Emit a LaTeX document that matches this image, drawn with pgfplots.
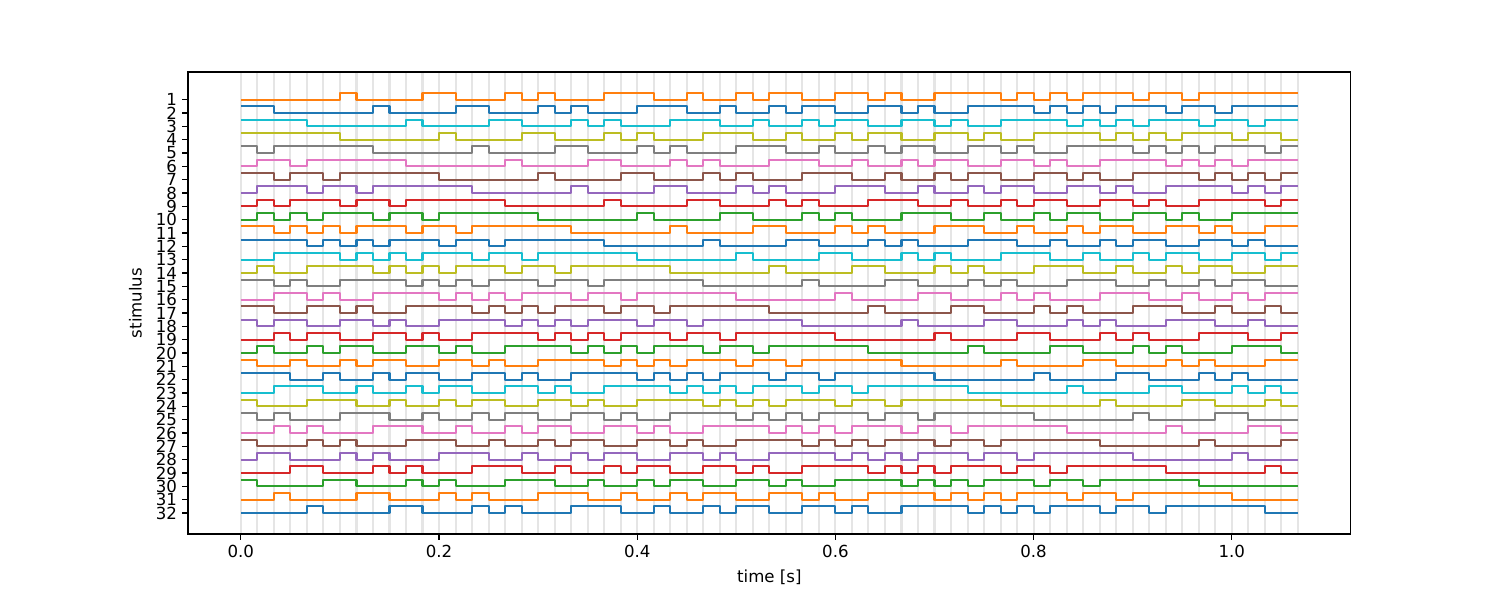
\documentclass[border=0pt]{standalone}
\usepackage{pgfplots}
\pgfplotsset{compat=1.18}
\usepackage{pgfplotstable}
\usepackage{fontspec}
\setmainfont{DejaVu Sans}
\definecolor{tab0}{HTML}{1F77B4}
\definecolor{tab1}{HTML}{FF7F0E}
\definecolor{tab2}{HTML}{2CA02C}
\definecolor{tab3}{HTML}{D62728}
\definecolor{tab4}{HTML}{9467BD}
\definecolor{tab5}{HTML}{8C564B}
\definecolor{tab6}{HTML}{E377C2}
\definecolor{tab7}{HTML}{7F7F7F}
\definecolor{tab8}{HTML}{BCBD22}
\definecolor{tab9}{HTML}{17BECF}

% one row per stimulus: the 64 bits of its code (1/60 s each), last bit repeated at the end
\pgfplotstableread[header=false]{
t 0 0.016667 0.033333 0.05 0.066667 0.083333 0.1 0.116667 0.133333 0.15 0.166667 0.183333 0.2 0.216667 0.233333 0.25 0.266667 0.283333 0.3 0.316667 0.333333 0.35 0.366667 0.383333 0.4 0.416667 0.433333 0.45 0.466667 0.483333 0.5 0.516667 0.533333 0.55 0.566667 0.583333 0.6 0.616667 0.633333 0.65 0.666667 0.683333 0.7 0.716667 0.733333 0.75 0.766667 0.783333 0.8 0.816667 0.833333 0.85 0.866667 0.883333 0.9 0.916667 0.933333 0.95 0.966667 0.983333 1 1.016667 1.033333 1.05 1.066667
s1  0 0 0 0 0 0 1 0  0 0 0 1 1 0 0 0  1 0 1 0 0 0 1 1  1 0 0 1 0 0 1 0  1 1 0 0 1 1 0 1  0 0 1 1 1 1 0 1  0 1 0 1 1 1 0 1  1 0 1 1 1 1 1 1  1
s2  1 1 0 0 0 0 0 0  1 0 0 0 0 1 1 0  0 0 1 0 1 0 0 0  1 1 1 0 0 1 0 0  1 0 1 1 0 0 1 1  0 1 0 0 1 1 1 1  0 1 0 1 0 1 1 1  0 1 1 0 1 1 1 1  1
s3  1 1 1 1 0 0 0 0  0 0 1 0 0 0 0 1  1 0 0 0 1 0 1 0  0 0 1 1 1 0 0 1  0 0 1 0 1 1 0 0  1 1 0 1 0 0 1 1  1 1 0 1 0 1 0 1  1 1 0 1 1 0 1 1  1
s4  1 1 1 1 1 1 0 0  0 0 0 0 1 0 0 0  0 1 1 0 0 0 1 0  1 0 0 0 1 1 1 0  0 1 0 0 1 0 1 1  0 0 1 1 0 1 0 0  1 1 1 1 0 1 0 1  0 1 1 1 0 1 1 0  0
s5  1 0 1 1 1 1 1 1  0 0 0 0 0 0 1 0  0 0 0 1 1 0 0 0  1 0 1 0 0 0 1 1  1 0 0 1 0 0 1 0  1 1 0 0 1 1 0 1  0 0 1 1 1 1 0 1  0 1 0 1 1 1 0 1  1
s6  0 1 1 0 1 1 1 1  1 1 0 0 0 0 0 0  1 0 0 0 0 1 1 0  0 0 1 0 1 0 0 0  1 1 1 0 0 1 0 0  1 0 1 1 0 0 1 1  0 1 0 0 1 1 1 1  0 1 0 1 0 1 1 1  1
s7  1 1 0 1 1 0 1 1  1 1 1 1 0 0 0 0  0 0 1 0 0 0 0 1  1 0 0 0 1 0 1 0  0 0 1 1 1 0 0 1  0 0 1 0 1 1 0 0  1 1 0 1 0 0 1 1  1 1 0 1 0 1 0 1  1
s8  0 1 1 1 0 1 1 0  1 1 1 1 1 1 0 0  0 0 0 0 1 0 0 0  0 1 1 0 0 0 1 0  1 0 0 0 1 1 1 0  0 1 0 0 1 0 1 1  0 0 1 1 0 1 0 0  1 1 1 1 0 1 0 1  1
s9  0 1 0 1 1 1 0 1  1 0 1 1 1 1 1 1  0 0 0 0 0 0 1 0  0 0 0 1 1 0 0 0  1 0 1 0 0 0 1 1  1 0 0 1 0 0 1 0  1 1 0 0 1 1 0 1  0 0 1 1 1 1 0 1  1
s10 0 1 0 1 0 1 1 1  0 1 1 0 1 1 1 1  1 1 0 0 0 0 0 0  1 0 0 0 0 1 1 0  0 0 1 0 1 0 0 0  1 1 1 0 0 1 0 0  1 0 1 1 0 0 1 1  0 1 0 0 1 1 1 1  1
s11 1 1 0 1 0 1 0 1  1 1 0 1 1 0 1 1  1 1 1 1 0 0 0 0  0 0 1 0 0 0 0 1  1 0 0 0 1 0 1 0  0 0 1 1 1 0 0 1  0 0 1 0 1 1 0 0  1 1 0 1 0 0 1 1  1
s12 1 1 1 1 0 1 0 1  0 1 1 1 0 1 1 0  1 1 1 1 1 1 0 0  0 0 0 0 1 0 0 0  0 1 1 0 0 0 1 0  1 0 0 0 1 1 1 0  0 1 0 0 1 0 1 1  0 0 1 1 0 1 0 0  0
s13 0 0 1 1 1 1 0 1  0 1 0 1 1 1 0 1  1 0 1 1 1 1 1 1  0 0 0 0 0 0 1 0  0 0 0 1 1 0 0 0  1 0 1 0 0 0 1 1  1 0 0 1 0 0 1 0  1 1 0 0 1 1 0 1  1
s14 0 1 0 0 1 1 1 1  0 1 0 1 0 1 1 1  0 1 1 0 1 1 1 1  1 1 0 0 0 0 0 0  1 0 0 0 0 1 1 0  0 0 1 0 1 0 0 0  1 1 1 0 0 1 0 0  1 0 1 1 0 0 1 1  1
s15 1 1 0 1 0 0 1 1  1 1 0 1 0 1 0 1  1 1 0 1 1 0 1 1  1 1 1 1 0 0 0 0  0 0 1 0 0 0 0 1  1 0 0 0 1 0 1 0  0 0 1 1 1 0 0 1  0 0 1 0 1 1 0 0  0
s16 0 0 1 1 0 1 0 0  1 1 1 1 0 1 0 1  0 1 1 1 0 1 1 0  1 1 1 1 1 1 0 0  0 0 0 0 1 0 0 0  0 1 1 0 0 0 1 0  1 0 0 0 1 1 1 0  0 1 0 0 1 0 1 1  1
s17 1 1 0 0 1 1 0 1  0 0 1 1 1 1 0 1  0 1 0 1 1 1 0 1  1 0 1 1 1 1 1 1  0 0 0 0 0 0 1 0  0 0 0 1 1 0 0 0  1 0 1 0 0 0 1 1  1 0 0 1 0 0 1 0  0
s18 1 0 1 1 0 0 1 1  0 1 0 0 1 1 1 1  0 1 0 1 0 1 1 1  0 1 1 0 1 1 1 1  1 1 0 0 0 0 0 0  1 0 0 0 0 1 1 0  0 0 1 0 1 0 0 0  1 1 1 0 0 1 0 0  0
s19 0 0 1 0 1 1 0 0  1 1 0 1 0 0 1 1  1 1 0 1 0 1 0 1  1 1 0 1 1 0 1 1  1 1 1 1 0 0 0 0  0 0 1 0 0 0 0 1  1 0 0 0 1 0 1 0  0 0 1 1 1 0 0 1  1
s20 0 1 0 0 1 0 1 1  0 0 1 1 0 1 0 0  1 1 1 1 0 1 0 1  0 1 1 1 0 1 1 0  1 1 1 1 1 1 0 0  0 0 0 0 1 0 0 0  0 1 1 0 0 0 1 0  1 0 0 0 1 1 1 0  0
s21 1 0 0 1 0 0 1 0  1 1 0 0 1 1 0 1  0 0 1 1 1 1 0 1  0 1 0 1 1 1 0 1  1 0 1 1 1 1 1 1  0 0 0 0 0 0 1 0  0 0 0 1 1 0 0 0  1 0 1 0 0 0 1 1  1
s22 1 1 1 0 0 1 0 0  1 0 1 1 0 0 1 1  0 1 0 0 1 1 1 1  0 1 0 1 0 1 1 1  0 1 1 0 1 1 1 1  1 1 0 0 0 0 0 0  1 0 0 0 0 1 1 0  0 0 1 0 1 0 0 0  0
s23 0 0 1 1 1 0 0 1  0 0 1 0 1 1 0 0  1 1 0 1 0 0 1 1  1 1 0 1 0 1 0 1  1 1 0 1 1 0 1 1  1 1 1 1 0 0 0 0  0 0 1 0 0 0 0 1  1 0 0 0 1 0 1 0  0
s24 1 0 0 0 1 1 1 0  0 1 0 0 1 0 1 1  0 0 1 1 0 1 0 0  1 1 1 1 0 1 0 1  0 1 1 1 0 1 1 0  1 1 1 1 1 1 0 0  0 0 0 0 1 0 0 0  0 1 1 0 0 0 1 0  0
s25 1 0 1 0 0 0 1 1  1 0 0 1 0 0 1 0  1 1 0 0 1 1 0 1  0 0 1 1 1 1 0 1  0 1 0 1 1 1 0 1  1 0 1 1 1 1 1 1  0 0 0 0 0 0 1 0  0 0 0 1 1 0 0 0  0
s26 0 0 1 0 1 0 0 0  1 1 1 0 0 1 0 0  1 0 1 1 0 0 1 1  0 1 0 0 1 1 1 1  0 1 0 1 0 1 1 1  0 1 1 0 1 1 1 1  1 1 0 0 0 0 0 0  1 0 0 0 0 1 1 0  0
s27 1 0 0 0 1 0 1 0  0 0 1 1 1 0 0 1  0 0 1 0 1 1 0 0  1 1 0 1 0 0 1 1  1 1 0 1 0 1 0 1  1 1 0 1 1 0 1 1  1 1 1 1 0 0 0 0  0 0 1 0 0 0 0 1  1
s28 0 1 1 0 0 0 1 0  1 0 0 0 1 1 1 0  0 1 0 0 1 0 1 1  0 0 1 1 0 1 0 0  1 1 1 1 0 1 0 1  0 1 1 1 0 1 1 0  1 1 1 1 1 1 0 0  0 0 0 0 1 0 0 0  0
s29 0 0 0 1 1 0 0 0  1 0 1 0 0 0 1 1  1 0 0 1 0 0 1 0  1 1 0 0 1 1 0 1  0 0 1 1 1 1 0 1  0 1 0 1 1 1 0 1  1 0 1 1 1 1 1 1  0 0 0 0 0 0 1 0  0
s30 1 0 0 0 0 1 1 0  0 0 1 0 1 0 0 0  1 1 1 0 0 1 0 0  1 0 1 1 0 0 1 1  0 1 0 0 1 1 1 1  0 1 0 1 0 1 1 1  0 1 1 0 1 1 1 1  1 1 0 0 0 0 0 0  0
s31 0 0 1 0 0 0 0 1  1 0 0 0 1 0 1 0  0 0 1 1 1 0 0 1  0 0 1 0 1 1 0 0  1 1 0 1 0 0 1 1  1 1 0 1 0 1 0 1  1 1 0 1 1 0 1 1  1 1 1 1 0 0 0 0  0
s32 0 0 0 0 1 0 0 0  0 1 1 0 0 0 1 0  1 0 0 0 1 1 1 0  0 1 0 0 1 0 1 1  0 0 1 1 0 1 0 0  1 1 1 1 0 1 0 1  0 1 1 1 0 1 1 0  1 1 1 1 1 1 0 0  0
}\raw
\pgfplotstabletranspose[colnames from=0]{\codes}{\raw}

\begin{document}
\begin{tikzpicture}
\useasboundingbox (0,0) rectangle (15in,6in);
\begin{axis}[
  at={(1.88in,0.66in)}, anchor=south west,
  scale only axis, width=11.627in, height=4.62in,
  xmin=-0.053333, xmax=1.12,
  ymin=-1.075, ymax=33.575, y dir=reverse,
  xtick={0,0.2,0.4,0.6,0.8,1.0},
  ytick={1,2,...,32},
  minor xtick={0,0.0166667,...,1.07},
  xminorgrids=true,
  minor grid style={gray!20, line width=1.5pt},
  minor tick length=0pt,
  tick align=outside, major tick length=4.2pt,
  xtick pos=bottom, ytick pos=left,
  tick style={black, line width=0.9pt},
  axis line style={line width=0.9pt},
  every axis/.append style={line width=0.9pt},
  /pgf/number format/assume math mode=true,
  xticklabel style={/pgf/number format/.cd, fixed, fixed zerofill, precision=1},
  tick label style={font=\fontsize{12}{14}\selectfont},
  label style={font=\fontsize{12}{14}\selectfont},
  xlabel={time [s]}, ylabel={stimulus},
  xlabel style={yshift=-2pt},
  ylabel style={yshift=3pt},
  cycle list={{tab0},{tab1},{tab2},{tab3},{tab4},{tab5},{tab6},{tab7},{tab8},{tab9}},
  every axis plot/.append style={const plot, mark=none, line width=1.5pt, line join=round},
]
\pgfplotsinvokeforeach{32,31,...,1}{
  \addplot table[x=t, y expr={#1-0.5*\thisrow{s#1}}]{\codes};
}
\end{axis}
\end{tikzpicture}
\end{document}
